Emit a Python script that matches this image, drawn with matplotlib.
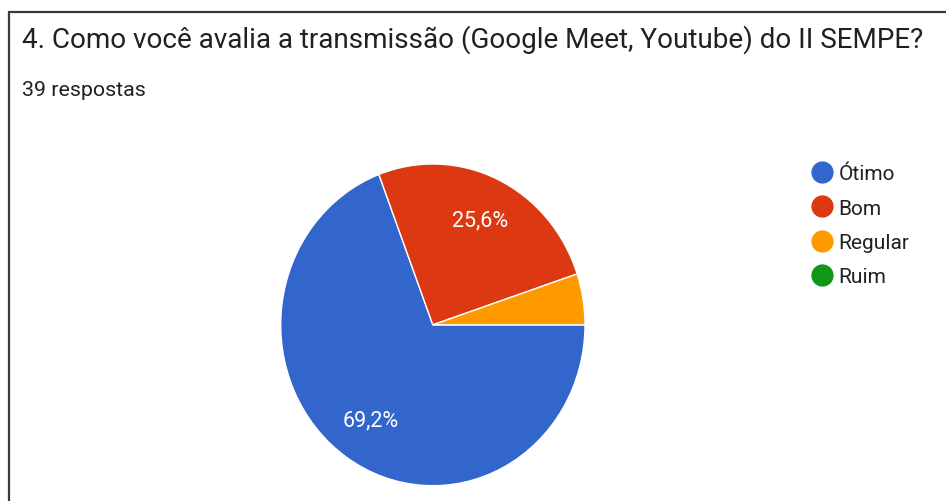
import matplotlib
matplotlib.use("Agg")
import matplotlib.pyplot as plt
from matplotlib.lines import Line2D

plt.rcParams['font.family'] = ['Roboto', 'DejaVu Sans']

title = "4. Como você avalia a transmissão (Google Meet, Youtube) do II SEMPE?"
subtitle = "39 respostas"
categories = ["Ótimo", "Bom", "Regular", "Ruim"]
counts = [27, 10, 2, 0]
colors = ["#3366CC", "#DC3912", "#FF9900", "#109618"]

W, H = 946, 502
fig = plt.figure(figsize=(W / 100, H / 100), dpi=100)
fig.patch.set_facecolor("white")

# border (left & top visible)
fig.add_artist(Line2D([9 / W, 9 / W], [0, 1 - 12 / H], color="#3a3a3a", lw=1.6,
                      transform=fig.transFigure, solid_capstyle="butt"))
fig.add_artist(Line2D([9 / W, 1], [1 - 12.5 / H, 1 - 12.5 / H], color="#3a3a3a", lw=1.6,
                      transform=fig.transFigure, solid_capstyle="butt"))

fig.text(22 / W, 1 - 47.5 / H, title, fontsize=20.1, color="#202124",
         ha="left", va="baseline")
fig.text(22 / W, 1 - 96 / H, subtitle, fontsize=15.4, color="#202124",
         ha="left", va="baseline")

# pie axes (slightly elliptical as in the reference)
left, right, top, bottom = 280.7, 585.0, 165.0, 486.7
ax = fig.add_axes([left / W, 1 - bottom / H, (right - left) / W, (bottom - top) / H])

vals = [c for c in counts if c > 0]
cols = [col for c, col in zip(counts, colors) if c > 0]


def fmt(p):
    if p < 10:
        return ""
    return f"{p:.1f}%".replace(".", ",")


wedges, texts, autotexts = ax.pie(
    vals, colors=cols, startangle=0, counterclock=False,
    autopct=fmt, pctdistance=0.72,
    wedgeprops=dict(edgecolor="white", linewidth=1.0),
    textprops=dict(color="white", fontsize=15.5))
ax.set_aspect("auto")
ax.set_xlim(-1, 1)
ax.set_ylim(-1, 1)
ax.axis("off")

handles = [Line2D([], [], marker="o", linestyle="none", markersize=15,
                  markerfacecolor=c, markeredgecolor=c) for c in colors]
fig.legend(handles, categories, loc="upper left",
           bbox_to_anchor=(802 / W, 1 - 155 / H), frameon=False,
           fontsize=15, labelspacing=0.73, handlelength=0.9,
           handletextpad=0.35, borderpad=0, labelcolor="#202124")

fig.savefig("out.png", dpi=100, facecolor="white")
